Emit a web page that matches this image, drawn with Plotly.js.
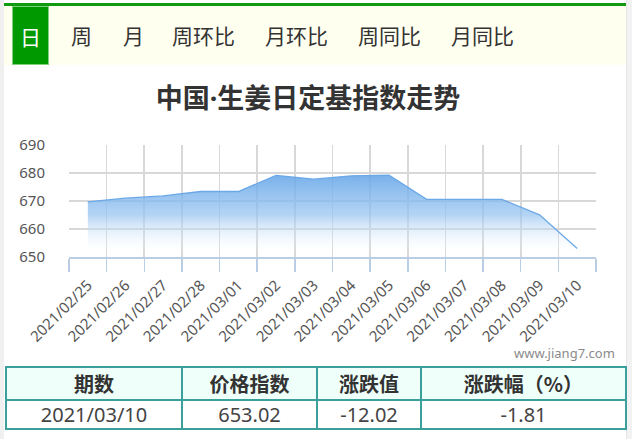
<!DOCTYPE html>
<html>
<head>
<meta charset="utf-8">
<script src="https://cdn.plot.ly/plotly-3.0.1.min.js"></script>
<style>
  html, body { margin: 0; padding: 0; width: 632px; height: 439px; background: #ffffff; overflow: hidden;
    font-family: "Noto Sans", "Noto Sans CJK SC", sans-serif; }
  #page { position: relative; width: 632px; height: 439px; background: #ffffff; }
  #lstrip { position: absolute; left: 0; top: 0; width: 4px; height: 439px; background: #f0f0f0; }
  #rstrip { position: absolute; left: 626px; top: 0; width: 6px; height: 439px; background: #f2f2f2; border-left: 1px solid #e6e6e6; box-sizing: border-box; }
  #topline { position: absolute; left: 4px; top: 3px; width: 622px; height: 3px; background: #109a10; }
  #tabbar { position: absolute; left: 4px; top: 6px; width: 622px; height: 59px; background: #fffff0; }
  .tab { position: absolute; top: 0; height: 59px; line-height: 58px; font-size: 21px; color: #333;
    font-family: "Noto Sans CJK SC", sans-serif; }
  .tab.active { background: #009900; color: #ffffff; border: 1px solid #7fcf7f; box-sizing: border-box; text-align: center; }
  #chart { position: absolute; left: 0; top: 65px; width: 632px; height: 300px; }
  #wm { position: absolute; left: 514px; top: 344px; font-size: 13px; color: #8a8a8a; font-family: "Noto Sans", sans-serif; }
  #tbl { position: absolute; left: 5px; top: 366px; border-collapse: collapse; table-layout: fixed; width: 620px; }
  #tbl td, #tbl th { border: 2px solid #3b9f9b; text-align: center; padding: 0; }
  #tbl th { background: #effffa; height: 31px; font-size: 20px; font-weight: bold; color: #333;
    font-family: "Noto Sans CJK SC", sans-serif; }
  #tbl td { background: #ffffff; height: 27px; font-size: 20px; color: #444; font-family: "Noto Sans", sans-serif; }
</style>
</head>
<body>
<div id="page">
  <div id="lstrip"></div>
  <div id="rstrip"></div>
  <div id="topline"></div>
  <div id="tabbar"></div>
  <div id="chart"></div>
  <div id="wm">www.jiang7.com</div>
  <table id="tbl"></table>
</div>
<script>
// ---- data ----
const dates = ['2021/02/25','2021/02/26','2021/02/27','2021/02/28','2021/03/01','2021/03/02','2021/03/03',
               '2021/03/04','2021/03/05','2021/03/06','2021/03/07','2021/03/08','2021/03/09','2021/03/10'];
const indexValues = [669.7, 671.0, 671.8, 673.4, 673.4, 679.1, 677.8, 679.0, 679.2, 670.6, 670.6, 670.6, 665.04, 653.02];
const yTickValues = [650, 660, 670, 680, 690];
const tabLabels = ['日','周','月','周环比','月环比','周同比','月同比'];
const chartTitle = '中国·生姜日定基指数走势';
const tableHeaders = ['期数','价格指数','涨跌值','涨跌幅（%）'];
const tableRow = ['2021/03/10','653.02','-12.02','-1.81'];

// ---- tabs ----
const tabPos = [[8, 37], [67, 0], [119, 0], [168, 0], [261, 0], [354, 0], [447, 0]];
const bar = document.getElementById('tabbar');
tabLabels.forEach((t, i) => {
  const d = document.createElement('div');
  d.className = 'tab' + (i === 0 ? ' active' : '');
  d.textContent = t;
  d.style.left = tabPos[i][0] + 'px';
  if (tabPos[i][1]) d.style.width = tabPos[i][1] + 'px';
  bar.appendChild(d);
});

// ---- table ----
const colW = [176, 135, 104, 205];
const tbl = document.getElementById('tbl');
let h = '<colgroup>' + colW.map(w => `<col style="width:${w}px">`).join('') + '</colgroup>';
h += '<tr>' + tableHeaders.map(t => `<th>${t}</th>`).join('') + '</tr>';
h += '<tr>' + tableRow.map(t => `<td>${t}</td>`).join('') + '</tr>';
tbl.innerHTML = h;

// ---- chart ----
const trace = {
  type: 'scatter', mode: 'lines',
  x: dates, y: indexValues,
  line: { color: '#6aa8e8', width: 1.3 },
  fill: 'tozeroy',
  fillgradient: {
    type: 'vertical', start: 651, stop: 679,
    colorscale: [[0, 'rgba(255,255,255,0)'], [0.5, 'rgba(150,195,240,0.72)'], [1, 'rgba(104,167,232,0.88)']]
  },
  hoverinfo: 'skip'
};
const layout = {
  width: 632, height: 300,
  margin: { l: 69, r: 36, t: 80, b: 108 },
  paper_bgcolor: 'rgba(0,0,0,0)', plot_bgcolor: 'rgba(0,0,0,0)',
  showlegend: false,
  font: { family: '"Noto Sans", "Noto Sans CJK SC", sans-serif', color: '#555' },
  title: {
    text: '<b>' + chartTitle + '</b>',
    font: { size: 27, color: '#333', family: '"Noto Sans", "Noto Sans CJK SC", sans-serif' },
    x: 308 / 632, xanchor: 'center', xref: 'container',
    y: 1 - 34 / 300, yanchor: 'middle', yref: 'container'
  },
  xaxis: {
    type: 'category', range: [-0.5, dates.length - 0.5],
    tickmode: 'linear', tick0: 0, dtick: 1,
    tickson: 'boundaries', ticks: 'outside', ticklen: 13, tickcolor: '#b9cde5', tickwidth: 1.5,
    showgrid: true, gridcolor: '#d8d8d8', gridwidth: 1.7,
    showline: true, linecolor: '#b9cde5', linewidth: 1.5,
    tickangle: -45, tickfont: { size: 15, color: '#555' },
    ticklabelstandoff: 12,
    fixedrange: true
  },
  yaxis: {
    range: [650, 690], tickvals: yTickValues, ticktext: yTickValues.map(String),
    showgrid: true, gridcolor: '#d8d8d8', gridwidth: 1.7,
    ticks: 'outside', ticklen: 20, tickcolor: 'rgba(0,0,0,0)',
    tickfont: { size: 15, color: '#555' },
    zeroline: false, showline: false, fixedrange: true
  }
};
Plotly.newPlot('chart', [trace], layout, { staticPlot: true, displayModeBar: false });
</script>
</body>
</html>
